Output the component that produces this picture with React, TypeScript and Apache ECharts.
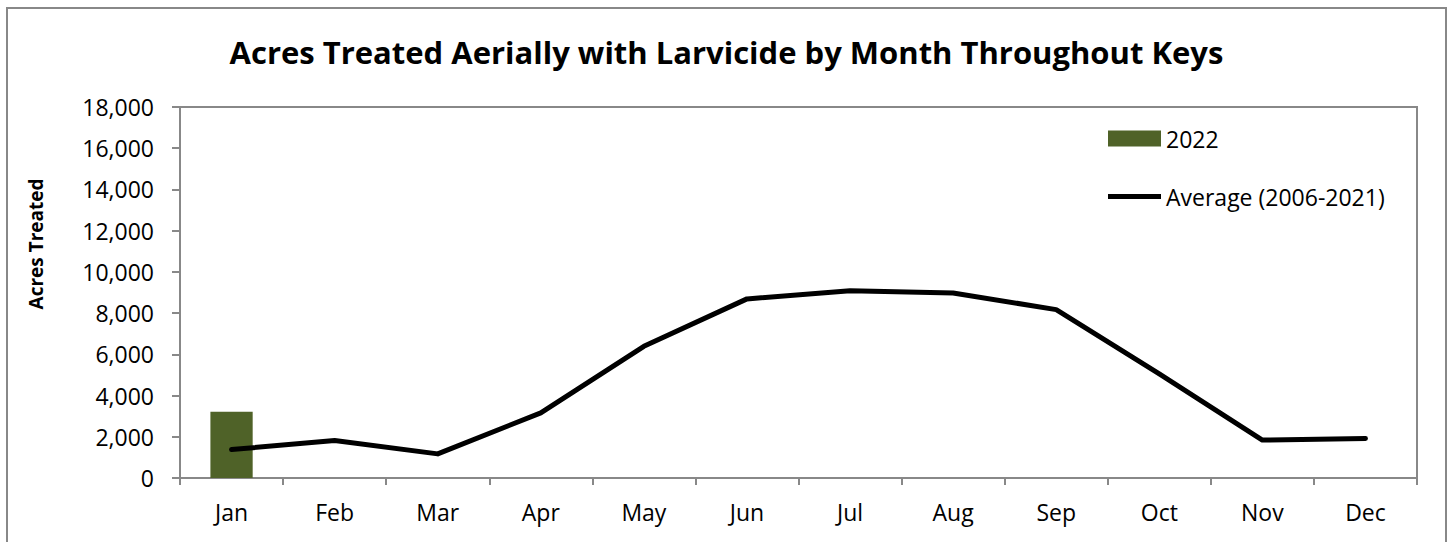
import React, { useEffect, useRef } from "react";
import * as echarts from "echarts";

const months = ["Jan", "Feb", "Mar", "Apr", "May", "Jun", "Jul", "Aug", "Sep", "Oct", "Nov", "Dec"];
const values2022: (number | null)[] = [3220, null, null, null, null, null, null, null, null, null, null, null];
const averageValues = [1380, 1820, 1170, 3160, 6390, 8690, 9090, 8980, 8170, 5050, 1840, 1920];
const yTicks = [0, 18000, 2000];

const titleText = "Acres Treated Aerially with Larvicide by Month Throughout Keys";
const yAxisTitle = "Acres Treated";
const FONT = "'Open Sans', 'Liberation Sans', sans-serif";

export default function App() {
  const ref = useRef<HTMLDivElement>(null);
  useEffect(() => {
    document.body.style.margin = "0";
    const chart = echarts.init(ref.current!, null, { renderer: "svg" });
    chart.setOption({
      animation: false,
      backgroundColor: "#ffffff",
      textStyle: { fontFamily: FONT },
      title: {
        text: titleText,
        left: "center",
        top: 31,
        textStyle: { fontFamily: FONT, fontSize: 31, fontWeight: "bold", color: "#000" },
      },
      graphic: [
        {
          type: "rect",
          shape: { x: 7, y: 8, width: 1439, height: 540 },
          style: { fill: "none", stroke: "#888888", lineWidth: 2 },
          silent: true,
        },
        {
          type: "text",
          x: 36,
          y: 244,
          rotation: Math.PI / 2,
          style: {
            text: yAxisTitle,
            fontFamily: FONT,
            fontSize: 19,
            fontWeight: "bold",
            fill: "#000",
            align: "center",
            verticalAlign: "middle",
          },
        },
      ],
      legend: {
        orient: "vertical",
        left: 1103,
        top: 122,
        itemWidth: 53,
        itemHeight: 16,
        itemGap: 35,
        textStyle: { fontFamily: FONT, fontSize: 23, color: "#000" },
        data: [
          { name: "2022", icon: "rect" },
          { name: "Average (2006-2021)", icon: "path://M0,0 L54,0 L54,5 L0,5 Z" },
        ],
      },
      grid: {
        left: 180,
        right: 36,
        top: 107,
        bottom: 64,
        show: true,
        borderColor: "#888888",
        borderWidth: 2,
        backgroundColor: "transparent",
      },
      xAxis: {
        type: "category",
        data: months,
        boundaryGap: true,
        axisLine: { lineStyle: { color: "#888888", width: 2 } },
        axisTick: { show: true, length: 7, lineStyle: { color: "#888888", width: 2 } },
        axisLabel: { color: "#000", fontSize: 23, margin: 22, fontFamily: FONT },
      },
      yAxis: {
        type: "value",
        min: yTicks[0],
        max: yTicks[1],
        interval: yTicks[2],
        splitLine: { show: false },
        axisLine: { show: true, lineStyle: { color: "#888888", width: 2 } },
        axisTick: { show: true, length: 8, lineStyle: { color: "#888888", width: 2 } },
        axisLabel: {
          color: "#000",
          fontSize: 23,
          margin: 26,
          fontFamily: FONT,
          formatter: (v: number) => v.toLocaleString("en-US"),
        },
      },
      series: [
        {
          name: "2022",
          type: "bar",
          data: values2022,
          barWidth: "41%",
          itemStyle: { color: "#4F6228" },
        },
        {
          name: "Average (2006-2021)",
          type: "line",
          data: averageValues,
          symbol: "none",
          lineStyle: { color: "#000", width: 5, cap: "round", join: "round" },
          itemStyle: { color: "#000" },
        },
      ],
    });
    return () => chart.dispose();
  }, []);
  return <div ref={ref} style={{ width: 1453, height: 542 }} />;
}
